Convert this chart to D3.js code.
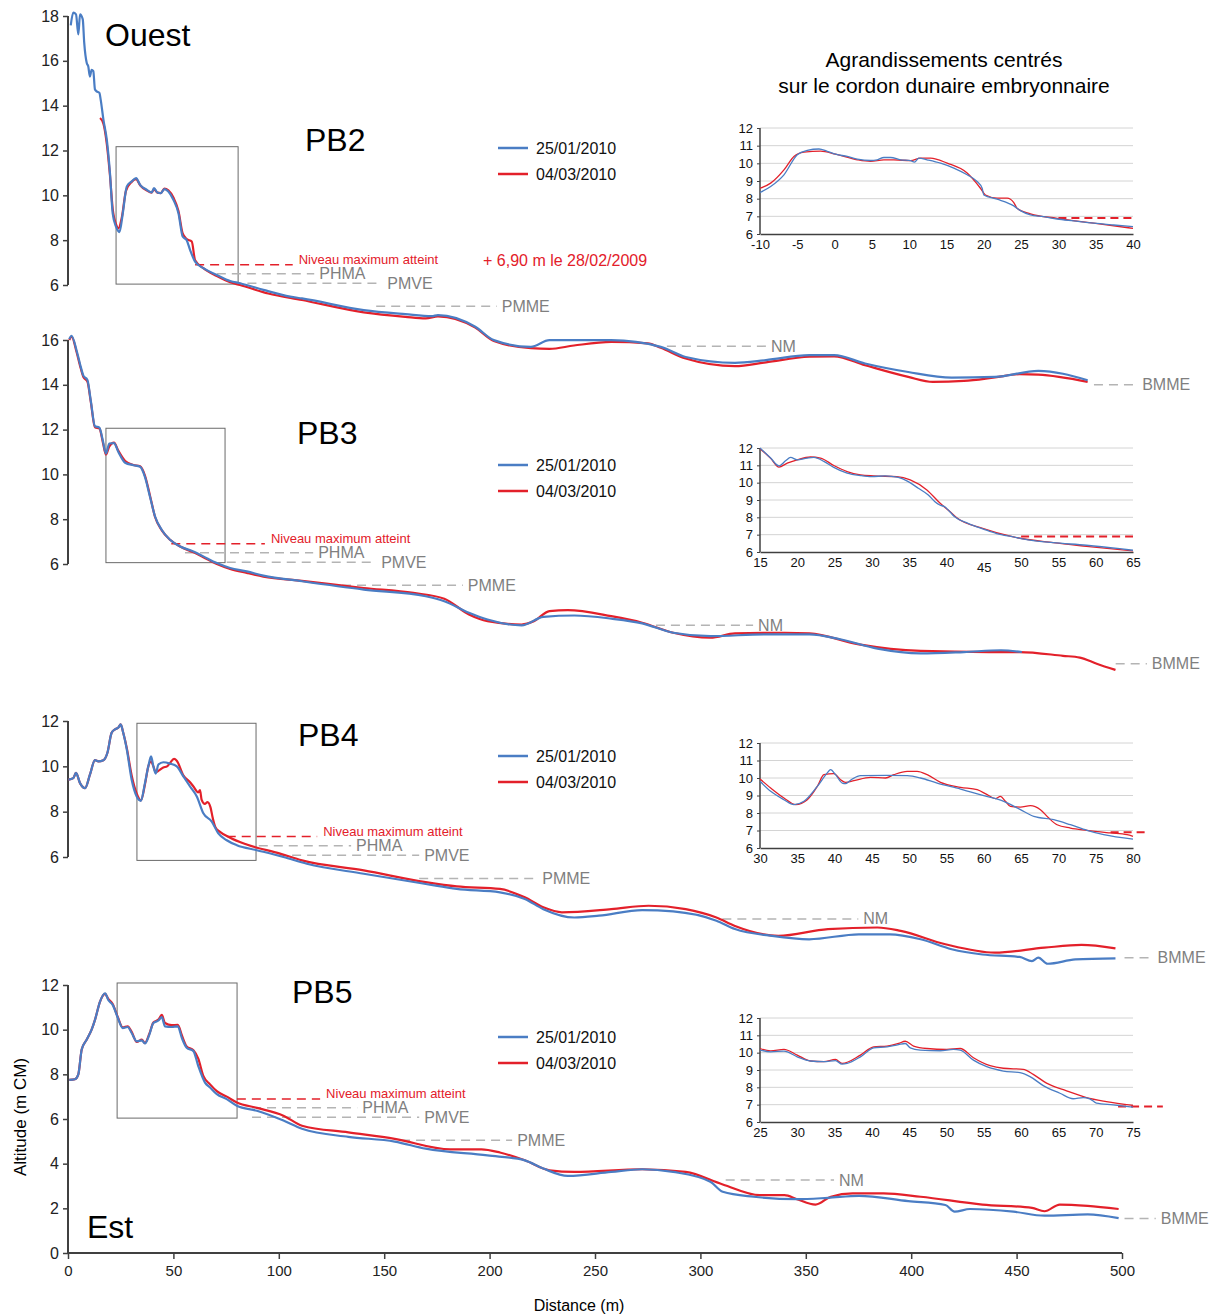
<!DOCTYPE html>
<html><head><meta charset="utf-8">
<script src="https://cdn.jsdelivr.net/npm/d3@7"></script>
<style>body{margin:0;background:#fff} text{font-family:Arial,"Liberation Sans",sans-serif}</style>
</head><body><svg id="c" width="1214" height="1315"></svg>
<script>
// ---------------- DATA ----------------
const seriesNames = ["25/01/2010", "04/03/2010"];
const xTicks = [0,50,100,150,200,250,300,350,400,450,500];
const levelNames = ["PHMA","PMVE","PMME","NM","BMME"];
const levelValues = [6.5, 6.08, 5.05, 3.27, 1.55];
const maxLevel = 6.90;
const maxLevelLabel = "Niveau maximum atteint";
const maxLevelNote = "+ 6,90 m le 28/02/2009";

// main profiles [distance m, altitude m CM]
const pb2Jan = [[1.3,17.58],[2.5,18.15],[3.8,18.07],[4.9,17.18],[5.7,18.07],[7.0,17.85],[7.7,16.8],[8.9,15.9],[9.6,15.76],[10.4,15.3],[11.2,15.6],[12.0,15.54],[12.8,14.72],[13.6,14.64],[14.9,14.57],[15.5,14.27],[16.8,13.38],[18.4,12.48],[19.9,11.0],[21.2,9.2],[22.8,8.6],[24.4,8.36],[26.0,9.2],[27.9,10.4],[30.2,10.62],[32.3,10.77],[34.2,10.47],[37.3,10.25],[39.7,10.13],[40.8,10.32],[42.4,10.13],[44.1,10.1],[45.7,10.28],[47.6,10.17],[50,9.8],[52.4,9.2],[54.4,8.16],[56.3,8.0],[57.9,7.57],[60.3,7.04],[64.2,6.75],[70.6,6.45],[76.9,6.18],[81.6,6.08],[92.7,5.78],[105.4,5.48],[111,5.4],[140.3,4.88],[160,4.7],[172.6,4.61],[175.5,4.66],[193.2,4.14],[202,3.54],[219.6,3.24],[228.4,3.54],[257.7,3.54],[281.2,3.24],[293,2.79],[316.4,2.53],[331.1,2.65],[351.7,2.87],[363.4,2.87],[378.1,2.5],[398.6,2.12],[419.2,1.87],[439.7,1.9],[460.3,2.17],[483.7,1.75]];
const pb2Mar = [[15.2,13.45],[16.8,13.2],[18.4,12.3],[19.9,10.9],[21.2,9.4],[22.8,8.7],[23.9,8.53],[25.5,9.0],[27.5,10.2],[30.2,10.6],[32.3,10.72],[34.2,10.45],[37.3,10.22],[39.7,10.12],[40.8,10.28],[42.4,10.12],[44.1,10.1],[45.7,10.3],[47.6,10.22],[50,9.9],[52.4,9.3],[54.4,8.3],[56.3,8.05],[58.7,7.94],[60.3,7.1],[64.2,6.75],[70.6,6.4],[76.9,6.12],[81.6,6.0],[95,5.62],[111,5.33],[140.3,4.78],[160,4.58],[169.7,4.51],[175.5,4.6],[193.2,4.1],[202,3.5],[219.6,3.18],[228.4,3.15],[240,3.3],[257.7,3.46],[275,3.4],[281.2,3.2],[293,2.72],[316.4,2.38],[331.1,2.55],[351.7,2.8],[363.4,2.82],[378.1,2.42],[398.6,1.9],[410.3,1.68],[425,1.72],[439.7,1.88],[451.4,2.02],[460.3,2.0],[483.7,1.68]];

const pb3Jan = [[0.6,16.04],[1.7,16.19],[4.1,15.52],[5.7,14.93],[7.3,14.41],[9.2,14.22],[10.8,13.3],[12.8,12.15],[14.9,12.09],[16.5,11.52],[18.0,10.93],[19.6,11.38],[21.8,11.4],[23.9,11.0],[27.1,10.52],[31.0,10.41],[34.2,10.34],[36.5,9.89],[38.9,9.0],[41.3,8.12],[44.5,7.52],[48.4,7.08],[53.2,6.78],[59.5,6.56],[64.2,6.34],[70.6,6.04],[76.9,5.82],[84.8,5.67],[92.7,5.48],[111,5.23],[140.3,4.86],[169.7,4.56],[178.5,4.34],[190.2,3.82],[199,3.52],[215.2,3.26],[225.5,3.64],[240.2,3.7],[257.7,3.56],[272.4,3.35],[287.1,2.93],[304.7,2.78],[331.1,2.86],[351.7,2.86],[366.3,2.64],[384,2.22],[404.5,2.01],[425,2.07],[442.6,2.15],[452.5,2.07]];
const pb3Mar = [[0.6,16.0],[1.7,16.15],[4.1,15.45],[5.7,14.85],[7.3,14.35],[9.2,14.15],[10.8,13.25],[12.8,12.1],[14.9,12.05],[16.5,11.45],[18.0,10.88],[19.6,11.25],[21.8,11.42],[23.9,11.05],[27.1,10.6],[31.0,10.42],[34.2,10.36],[36.5,9.95],[38.9,9.05],[41.3,8.1],[44.5,7.5],[48.4,7.08],[53.2,6.78],[59.5,6.52],[64.2,6.3],[70.6,6.0],[76.9,5.78],[84.8,5.6],[92.7,5.44],[111,5.25],[140.3,4.93],[163.8,4.71],[178.5,4.45],[190.2,3.75],[199,3.45],[215.2,3.3],[221,3.45],[228.4,3.9],[237.1,3.94],[257.7,3.67],[272.4,3.38],[287.1,2.93],[304.7,2.71],[316.4,2.9],[339.9,2.93],[351.7,2.9],[375.2,2.41],[404.5,2.12],[437,2.07],[451.4,2.07],[472,1.9],[480,1.82],[488,1.55],[496.9,1.27]];

const pb4Jan = [[0.2,9.41],[2.5,9.48],[3.8,9.71],[5.7,9.26],[8.1,9.04],[10.4,9.63],[12.8,10.27],[14.4,10.22],[16.8,10.27],[18.7,10.6],[20.7,11.48],[22.3,11.63],[23.9,11.71],[25,11.85],[26.2,11.48],[27.9,10.74],[30.2,9.41],[32.6,8.67],[34.6,8.48],[36.5,9.26],[38.1,10.0],[39.4,10.44],[40.5,10.0],[41.6,9.68],[42.9,10.08],[45.2,10.18],[48.4,10.12],[51.6,10.0],[54.7,9.56],[57.9,9.11],[61.1,8.67],[64.2,7.93],[68.2,7.56],[71.3,7.04],[75.3,6.74],[80.1,6.52],[89.6,6.3],[102.2,6.0],[113.3,5.7],[140.3,5.26],[169.7,4.81],[184.4,4.59],[204.9,4.44],[216.7,4.15],[225.5,3.7],[240.2,3.33],[251.9,3.41],[272.4,3.66],[287.1,3.6],[307.6,3.19],[316.4,2.82],[334,2.52],[351.6,2.37],[375.2,2.59],[389.8,2.59],[404.5,2.37],[419.2,1.93],[433.8,1.7],[451.4,1.59],[457.3,1.41],[460.3,1.56],[464.7,1.29],[477.9,1.48],[496.9,1.53]];
const pb4Mar = [[0.2,9.41],[2.5,9.48],[3.8,9.71],[5.7,9.26],[8.1,9.04],[10.4,9.63],[12.8,10.27],[14.4,10.22],[16.8,10.27],[18.7,10.6],[20.7,11.48],[22.3,11.63],[23.9,11.71],[25,11.85],[26.2,11.48],[27.9,10.8],[30.2,9.6],[32.6,8.8],[34.6,8.5],[36.5,9.2],[38.1,10.0],[39.4,10.22],[40.5,10.0],[41.6,9.75],[42.9,9.8],[45.2,9.95],[47,10.0],[48.4,10.15],[50.3,10.33],[51.6,10.25],[54.7,9.6],[57.9,9.3],[59.5,9.11],[61.8,8.85],[62.6,8.95],[63.4,8.52],[64.9,8.34],[66.2,8.42],[67.6,8.19],[68.7,7.71],[70,7.3],[72.1,7.11],[76.9,6.85],[84.8,6.55],[100.6,6.15],[111,5.85],[140.3,5.41],[169.7,4.89],[184.4,4.7],[204.9,4.59],[216.7,4.22],[225.5,3.78],[234.3,3.56],[257.7,3.7],[275.4,3.85],[293,3.7],[307.6,3.33],[316.4,2.96],[337,2.52],[360.5,2.82],[384,2.89],[395,2.74],[416.2,2.15],[439.7,1.78],[463.2,2.0],[480.8,2.12],[496.9,1.97]];

const pb5Jan = [[0.6,7.75],[3.3,7.78],[4.9,8.0],[6.5,9.11],[8.9,9.56],[11.2,10.0],[12.8,10.44],[15.2,11.26],[17.6,11.63],[19.1,11.33],[21.2,11.11],[23.4,10.59],[26,10.07],[28.3,10.12],[30.2,9.85],[32.6,9.48],[35,9.52],[36.5,9.38],[38.6,9.78],[40.5,10.3],[42.9,10.41],[44.5,10.56],[46,10.15],[49.2,10.12],[52.1,10.15],[54,9.63],[56.3,9.19],[59.5,9.04],[61.8,8.37],[65,7.63],[67.4,7.41],[70.6,7.11],[75.3,6.89],[80.1,6.59],[89.6,6.37],[102.2,5.93],[111,5.56],[133,5.2],[155,4.99],[169.7,4.67],[199,4.37],[216.7,4.15],[225.5,3.78],[237.1,3.45],[257.7,3.63],[272.4,3.75],[287.1,3.63],[304.7,3.19],[310.6,2.74],[325.3,2.52],[345.8,2.41],[360.5,2.47],[375.2,2.56],[398.6,2.32],[416.2,2.15],[420.6,1.85],[427.9,1.97],[448.5,1.85],[463.2,1.67],[483.7,1.73],[498.4,1.56]];
const pb5Mar = [[0.6,7.75],[3.3,7.78],[4.9,8.0],[6.5,9.11],[8.9,9.56],[11.2,10.0],[12.8,10.44],[15.2,11.26],[17.6,11.6],[19.1,11.38],[21.2,11.15],[23.4,10.62],[26,10.1],[28.3,10.15],[30.2,9.9],[32.6,9.45],[35,9.55],[36.5,9.4],[38.6,9.82],[40.5,10.32],[42.9,10.45],[44.5,10.66],[46,10.3],[49.2,10.2],[52.1,10.22],[54,9.75],[56.3,9.25],[59.5,9.08],[61.8,8.7],[64.2,7.93],[67.4,7.55],[70.6,7.25],[75.3,7.0],[80.1,6.74],[89.6,6.5],[102.2,6.15],[111,5.7],[133,5.4],[155,5.11],[181.4,4.64],[196.1,4.64],[204.9,4.5],[216.7,4.15],[228.4,3.7],[240.2,3.63],[272.4,3.75],[293,3.63],[310.6,3.07],[328.2,2.59],[339.9,2.59],[345.8,2.41],[354.6,2.17],[361.9,2.52],[372.2,2.67],[386.9,2.67],[404.5,2.52],[433.8,2.17],[457.3,2.02],[463.2,1.87],[470.5,2.17],[483.7,2.11],[498.4,1.97]];

// inset (enlargement) profiles
const in2Jan = [[-10,8.35],[-8.57,8.69],[-6.79,9.35],[-5.0,10.49],[-3.66,10.73],[-2.1,10.81],[-0.98,10.68],[0.13,10.52],[1.7,10.39],[3.04,10.24],[4.82,10.16],[5.71,10.2],[6.61,10.33],[7.5,10.33],[8.84,10.2],[10.18,10.15],[10.71,10.07],[11.29,10.3],[12.41,10.2],[14.2,10.01],[15.98,9.73],[17.77,9.35],[19.1,8.97],[19.78,8.59],[20.0,8.21],[21.79,7.97],[24.02,7.59],[24.91,7.32],[26.25,7.08],[28.04,6.98],[29.82,6.85],[32.05,6.74],[34.73,6.61],[37.41,6.51],[40,6.42]];
const in2Mar = [[-10,8.59],[-8.57,8.88],[-6.79,9.63],[-5.45,10.39],[-4.11,10.64],[-1.88,10.69],[0.13,10.52],[3.04,10.2],[4.82,10.11],[6.61,10.2],[7.95,10.2],[10.18,10.15],[11.52,10.3],[12.86,10.3],[15.09,10.01],[17.77,9.45],[19.55,8.59],[20.22,8.21],[21.79,8.03],[23.13,8.03],[24.02,7.78],[24.46,7.46],[26.25,7.14],[29.82,6.89],[34.73,6.61],[40,6.32]];
const in3Jan = [[15,12.0],[16.43,11.42],[17.54,10.97],[18.43,11.26],[19.1,11.46],[19.99,11.32],[21.33,11.42],[22.22,11.46],[23.56,11.23],[24.89,10.88],[26.68,10.55],[28.46,10.41],[29.97,10.35],[31.75,10.39],[33.54,10.3],[34.88,10.06],[36.22,9.68],[37.56,9.29],[38.45,8.9],[39.1,8.71],[39.77,8.61],[40.45,8.32],[41.1,8.03],[42.88,7.65],[44.95,7.32],[46.73,7.06],[48.96,6.87],[51.19,6.68],[54.3,6.54],[58.76,6.39],[63.22,6.19],[65,6.1]];
const in3Mar = [[15,11.96],[16.43,11.4],[17.54,10.9],[18.65,11.13],[19.99,11.32],[21.77,11.48],[23.11,11.42],[24.89,10.99],[26.68,10.64],[28.46,10.45],[30.24,10.39],[33.36,10.35],[35.14,10.16],[37.37,9.58],[39.15,8.81],[40.49,8.32],[41.38,7.97],[44.95,7.35],[48.96,6.87],[54.3,6.54],[58.76,6.33],[65,6.06]];
const in4Jan = [[30,9.81],[31.43,9.24],[33.21,8.76],[34.55,8.48],[35.89,8.67],[37.68,9.52],[39.02,10.29],[39.46,10.48],[40.13,10.19],[41.03,9.71],[41.47,9.68],[42.37,9.94],[43.48,10.13],[47.05,10.15],[49.73,10.13],[51.52,10.0],[53.75,9.71],[56.88,9.37],[60.0,8.99],[62.68,8.67],[64.91,8.19],[66.7,7.81],[69.38,7.62],[71.61,7.33],[73.84,7.01],[76.07,6.76],[80,6.51]];
const in4Mar = [[30,9.94],[31.43,9.43],[33.21,8.86],[34.78,8.48],[36.34,8.76],[37.68,9.52],[38.57,10.19],[39.91,10.25],[40.8,9.9],[41.47,9.75],[42.59,9.85],[44.82,10.04],[46.83,10.0],[47.95,10.19],[49.73,10.38],[51.07,10.38],[52.41,10.19],[54.2,9.75],[56.88,9.47],[59.11,9.33],[60.45,9.05],[61.56,8.82],[62.23,8.95],[62.9,8.67],[63.57,8.38],[64.91,8.34],[66.25,8.42],[67.59,8.19],[68.71,7.71],[69.82,7.33],[71.61,7.14],[73.84,7.01],[76.96,6.86],[79.2,6.76],[80,6.67]];
const in5Jan = [[25,10.15],[26.43,10.05],[28.21,10.09],[29.99,9.76],[31.77,9.52],[33.56,9.48],[35.12,9.54],[36.0,9.34],[36.68,9.38],[38.46,9.76],[40.24,10.28],[42.02,10.34],[43.58,10.47],[44.47,10.53],[45.14,10.28],[46.48,10.15],[49.15,10.11],[50.94,10.19],[51.83,10.15],[53.61,9.57],[55.39,9.19],[57.62,8.94],[59.85,8.85],[61.19,8.62],[62.97,8.1],[65.2,7.66],[66.98,7.34],[68.32,7.41],[69.2,7.34],[70.1,7.09],[72.33,6.99],[75,6.86]];
const in5Mar = [[25,10.24],[26.43,10.1],[28.21,10.19],[29.99,9.86],[31.77,9.52],[33.56,9.48],[35.12,9.61],[36.0,9.38],[38.46,9.86],[40.24,10.34],[42.02,10.38],[43.58,10.53],[44.47,10.66],[45.59,10.38],[47.37,10.24],[50.04,10.19],[51.83,10.24],[53.61,9.71],[55.84,9.25],[57.62,9.1],[60.29,9.04],[61.63,8.75],[63.41,8.24],[66.09,7.8],[68.76,7.41],[71.43,7.18],[75,6.96]];

// ---------------- LAYOUT ----------------
const BLUE = "#4a7dc4", RED = "#e3202a", GRAYD = "#b4b4b4", GRAYT = "#7f7f7f", AXIS = "#404040";
const FONT = "Arial, 'Liberation Sans', sans-serif";
const fmt = d => String(d);
const svg = d3.select("#c");
const x = d3.scaleLinear().domain([0, 500]).range([68, 1122]);

const profiles = [
  {name:"PB2", jan:pb2Jan, mar:pb2Mar, yDom:[6,18], yRng:[285,16], tStep:2,
   box:[22.8,80.7,6.04,12.17], title:[305,140], legendY:148, note:true,
   maxExt:[60.3,106.6], lvlExt:[[70.6,116.8],[78,149.1],[146.2,203.4],[284.1,331.1],[486.7,507.2]],
   inset:{jan:in2Jan, mar:in2Mar, xDom:[-10,40], yRng:[234,128], dash:[30,40]}},
  {name:"PB3", jan:pb3Jan, mar:pb3Mar, yDom:[6,16], yRng:[564,340], tStep:2,
   box:[18.0,74.5,6.06,12.06], title:[297,433], legendY:465,
   maxExt:[49,93.4], lvlExt:[[55.5,116.3],[75.3,146.2],[130,187.3],[278.9,325],[497,511.8]],
   inset:{jan:in3Jan, mar:in3Mar, xDom:[15,65], yRng:[552,448], dash:[50,65], low:45}},
  {name:"PB4", jan:pb4Jan, mar:pb4Mar, yDom:[6,12], yRng:[857,721], tStep:2,
   box:[32.7,89.2,5.85,11.9], title:[298,735], legendY:756,
   maxExt:[75.3,118.2], lvlExt:[[90.5,134.3],[99.2,166.6],[166.6,222.6],[310.4,374.9],[501.2,514.5]],
   inset:{jan:in4Jan, mar:in4Mar, xDom:[30,80], yRng:[848,743], dash:[77,82]}},
  {name:"PB5", jan:pb5Jan, mar:pb5Mar, yDom:[0,12], yRng:[1253,985], tStep:2,
   box:[23.3,80.2,6.04,12.09], title:[292,992], legendY:1037,
   maxExt:[80.1,119.6], lvlExt:[[87.3,137.2],[87.3,166.6],[158,210.7],[312,363.4],[501.2,516]],
   inset:{jan:in5Jan, mar:in5Mar, xDom:[25,75], yRng:[1122,1018], dash:[73,79]}}
];

profiles.forEach(p => {
  const y = d3.scaleLinear().domain(p.yDom).range(p.yRng);
  const g = svg.append("g");
  // y axis
  const ay = g.append("g").attr("transform", "translate(68,0)")
    .call(d3.axisLeft(y).tickValues(d3.range(p.yDom[0], p.yDom[1] + 0.01, p.tStep)).tickFormat(fmt).tickSize(5).tickPadding(4));
  ay.select(".domain").attr("stroke", AXIS).attr("stroke-width", 2).attr("d", `M0,${p.yRng[0]}V${p.yRng[1]}`);
  ay.selectAll(".tick line").attr("stroke", AXIS).attr("stroke-width", 1.5);
  ay.selectAll(".tick text").attr("font-size", 16).attr("fill", "#222").attr("font-family", FONT);

  // zoom box
  g.append("rect").attr("x", x(p.box[0])).attr("y", y(p.box[3]))
    .attr("width", x(p.box[1]) - x(p.box[0])).attr("height", y(p.box[2]) - y(p.box[3]))
    .attr("fill", "none").attr("stroke", "#6a6a6a").attr("stroke-width", 1);

  // tidal level lines
  levelValues.forEach((v, i) => {
    const e = p.lvlExt[i];
    g.append("line").attr("x1", x(e[0])).attr("x2", x(e[1])).attr("y1", y(v)).attr("y2", y(v))
      .attr("stroke", GRAYD).attr("stroke-width", 1.5).attr("stroke-dasharray", "9,6");
    g.append("text").attr("x", x(e[1]) + 5).attr("y", y(v)).attr("dy", "0.35em")
      .attr("font-size", 16).attr("fill", GRAYT).text(levelNames[i]);
  });
  // max level
  g.append("line").attr("x1", x(p.maxExt[0])).attr("x2", x(p.maxExt[1])).attr("y1", y(maxLevel)).attr("y2", y(maxLevel))
    .attr("stroke", RED).attr("stroke-width", 1.5).attr("stroke-dasharray", "9,6");
  g.append("text").attr("x", x(p.maxExt[1]) + 6).attr("y", y(maxLevel) - 1)
    .attr("font-size", 13).attr("fill", RED).text(maxLevelLabel);
  if (p.note) g.append("text").attr("x", 483).attr("y", y(maxLevel) + 1)
    .attr("font-size", 16).attr("fill", RED).text(maxLevelNote);

  // profiles
  const line = d3.line().x(d => x(d[0])).y(d => y(d[1])).curve(d3.curveMonotoneX);
  g.append("path").attr("d", line(p.mar)).attr("fill", "none").attr("stroke", RED).attr("stroke-width", 2.2);
  g.append("path").attr("d", line(p.jan)).attr("fill", "none").attr("stroke", BLUE).attr("stroke-width", 2.2);

  // title
  g.append("text").attr("x", p.title[0]).attr("y", p.title[1]).attr("dy", "0.35em")
    .attr("font-size", 32).attr("fill", "#000").text(p.name);

  // legend
  [BLUE, RED].forEach((c, i) => {
    const ly = p.legendY + i * 26;
    g.append("line").attr("x1", 498).attr("x2", 528).attr("y1", ly).attr("y2", ly).attr("stroke", c).attr("stroke-width", 2.5);
    g.append("text").attr("x", 536).attr("y", ly).attr("dy", "0.35em").attr("font-size", 16).attr("fill", "#111").text(seriesNames[i]);
  });

  // inset
  const I = p.inset;
  const ix = d3.scaleLinear().domain(I.xDom).range([760, 1133]);
  const iy = d3.scaleLinear().domain([6, 12]).range(I.yRng);
  const ig = svg.append("g");
  d3.range(7, 13).forEach(v => {
    ig.append("line").attr("x1", 760).attr("x2", 1133).attr("y1", iy(v)).attr("y2", iy(v))
      .attr("stroke", "#d4d4d4").attr("stroke-width", 1);
  });
  const iax = ig.append("g").attr("transform", `translate(0,${I.yRng[0]})`)
    .call(d3.axisBottom(ix).tickValues(d3.range(I.xDom[0], I.xDom[1] + 0.01, 5)).tickFormat(fmt).tickSize(0).tickPadding(6));
  iax.select(".domain").attr("stroke", AXIS).attr("stroke-width", 1.5);
  iax.selectAll(".tick text").attr("font-size", 13).attr("fill", "#111").attr("font-family", FONT)
    .attr("dy", d => d === I.low ? "1.05em" : "0.71em");
  const iay = ig.append("g").attr("transform", "translate(760,0)")
    .call(d3.axisLeft(iy).tickValues(d3.range(6, 13)).tickFormat(fmt).tickSize(3).tickPadding(4));
  iay.select(".domain").attr("stroke", AXIS).attr("stroke-width", 1.5).attr("d", `M0,${I.yRng[0]}V${I.yRng[1]}`);
  iay.selectAll(".tick line").attr("stroke", AXIS);
  iay.selectAll(".tick text").attr("font-size", 13).attr("fill", "#111").attr("font-family", FONT);
  ig.append("line").attr("x1", ix(I.dash[0])).attr("x2", ix(I.dash[1])).attr("y1", iy(maxLevel)).attr("y2", iy(maxLevel))
    .attr("stroke", RED).attr("stroke-width", 2).attr("stroke-dasharray", "8,5");
  const il = d3.line().x(d => ix(d[0])).y(d => iy(d[1])).curve(d3.curveMonotoneX);
  ig.append("path").attr("d", il(I.mar)).attr("fill", "none").attr("stroke", RED).attr("stroke-width", 1.3);
  ig.append("path").attr("d", il(I.jan)).attr("fill", "none").attr("stroke", BLUE).attr("stroke-width", 1.3);
});

// x axis
const ax = svg.append("g").attr("transform", "translate(0,1253)")
  .call(d3.axisBottom(x).tickValues(xTicks).tickFormat(fmt).tickSize(6).tickPadding(6));
ax.select(".domain").attr("stroke", AXIS).attr("stroke-width", 2).attr("d", "M68,0H1122");
ax.selectAll(".tick line").attr("stroke", AXIS).attr("stroke-width", 1.5);
ax.selectAll(".tick text").attr("font-size", 15).attr("fill", "#222").attr("font-family", FONT);

svg.append("text").attr("x", 579).attr("y", 1305).attr("dy", "0.35em").attr("text-anchor", "middle")
  .attr("font-size", 16).text("Distance (m)");
svg.append("text").attr("transform", "translate(20,1117) rotate(-90)").attr("dy", "0.35em").attr("text-anchor", "middle")
  .attr("font-size", 17).text("Altitude (m CM)");

svg.append("text").attr("x", 105).attr("y", 35).attr("dy", "0.35em").attr("font-size", 32).text("Ouest");
svg.append("text").attr("x", 87).attr("y", 1227).attr("dy", "0.35em").attr("font-size", 32).text("Est");
svg.append("text").attr("x", 944).attr("y", 60).attr("dy", "0.35em").attr("text-anchor", "middle").attr("font-size", 21).text("Agrandissements centrés");
svg.append("text").attr("x", 944).attr("y", 86).attr("dy", "0.35em").attr("text-anchor", "middle").attr("font-size", 21).text("sur le cordon dunaire embryonnaire");
</script></body></html>
